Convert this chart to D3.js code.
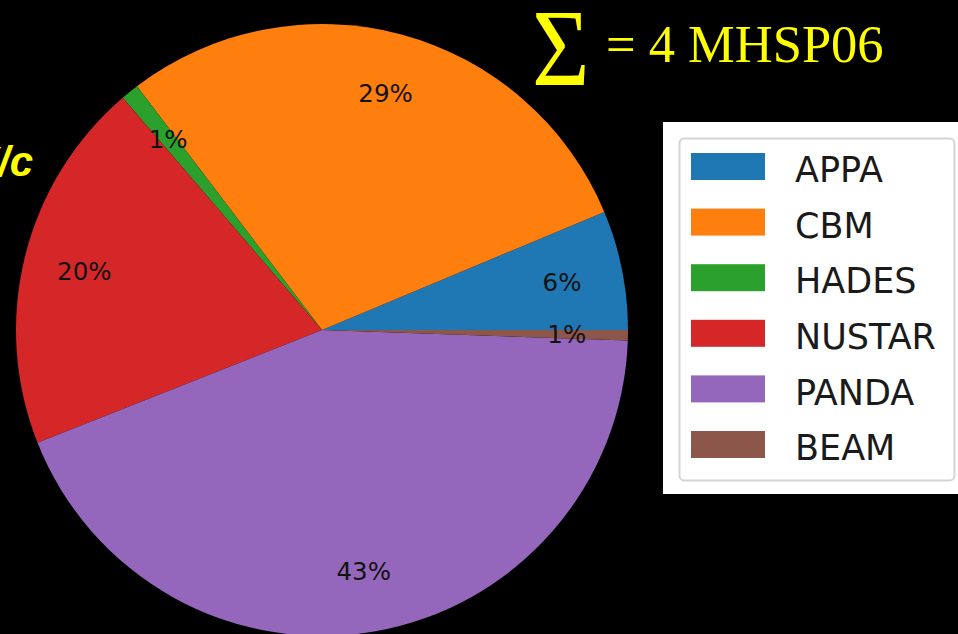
<!DOCTYPE html>
<html>
<head>
<meta charset="utf-8">
<script src="https://cdn.jsdelivr.net/npm/d3@7"></script>
<style>
html,body{margin:0;padding:0;background:#000;}
svg{display:block;}
</style>
</head>
<body>
<svg id="chart" width="958" height="634"></svg>
<script>
const categories = ["APPA", "CBM", "HADES", "NUSTAR", "PANDA", "BEAM"];
const values = [6.3, 29.0, 0.95, 19.7, 43.4, 0.55];
const colors = ["#1f77b4", "#ff7f0e", "#2ca02c", "#d62728", "#9467bd", "#8c564b"];
const titleText = "= 4 MHSP06";
const sideText = "GeV/c";

const svg = d3.select("#chart");
svg.append("rect").attr("width", 958).attr("height", 634).attr("fill", "#000");

const cx = 322, cy = 330, R = 306;
const total = d3.sum(values);
const pie = d3.pie().sort(null).value(d => d)
  .startAngle(Math.PI / 2).endAngle(Math.PI / 2 - 2 * Math.PI);
const arcs = pie(values);
const arc = d3.arc().innerRadius(0).outerRadius(R);
const labelArc = d3.arc().innerRadius(R * 0.8).outerRadius(R * 0.8);

const g = svg.append("g").attr("transform", `translate(${cx},${cy})`);
g.selectAll("path.slice").data(arcs).join("path")
  .attr("class", "slice")
  .attr("d", arc)
  .attr("fill", (d, i) => colors[i]);

g.selectAll("text.pct").data(arcs).join("text")
  .attr("class", "pct")
  .attr("transform", d => `translate(${labelArc.centroid(d)})`)
  .attr("text-anchor", "middle")
  .attr("dy", "0.36em")
  .attr("font-family", "DejaVu Sans, sans-serif")
  .attr("font-size", 24.5)
  .attr("fill", "#111")
  .text(d => Math.round(d.value / total * 100) + "%");

// side text (cut off at left, as in the reference)
svg.append("text")
  .attr("x", 33).attr("y", 176)
  .attr("text-anchor", "end")
  .attr("font-family", "Liberation Sans, Arial, sans-serif")
  .attr("font-weight", "bold").attr("font-style", "italic")
  .attr("font-size", 42)
  .attr("fill", "#ffff00")
  .text(sideText);

// Sigma title
svg.append("text")
  .attr("transform", "translate(532,85) scale(0.9,1)")
  .attr("font-family", "Liberation Serif, Times New Roman, serif")
  .attr("font-size", 110)
  .attr("fill", "#ffff00")
  .text("Σ");
svg.append("text")
  .attr("x", 606).attr("y", 62)
  .attr("font-family", "Liberation Serif, Times New Roman, serif")
  .attr("font-size", 52.5)
  .attr("fill", "#ffff00")
  .text(titleText);

// Legend
const lg = svg.append("g");
lg.append("rect").attr("x", 663).attr("y", 122).attr("width", 295).attr("height", 372).attr("fill", "#fff");
lg.append("rect").attr("x", 679.5).attr("y", 138.5).attr("width", 275).attr("height", 342)
  .attr("rx", 5).attr("fill", "#fff").attr("stroke", "#d4d4d4").attr("stroke-width", 2);
const items = lg.selectAll("g.item").data(categories).join("g")
  .attr("class", "item")
  .attr("transform", (d, i) => `translate(0,${153 + i * 55.6})`);
items.append("rect").attr("x", 691).attr("y", 0).attr("width", 74).attr("height", 27)
  .attr("fill", (d, i) => colors[i]);
items.append("text")
  .attr("x", 795).attr("y", 16.5).attr("dy", "0.36em")
  .attr("font-family", "DejaVu Sans, sans-serif")
  .attr("font-size", 35)
  .attr("fill", "#1a1a1a")
  .text(d => d);
</script>
</body>
</html>
